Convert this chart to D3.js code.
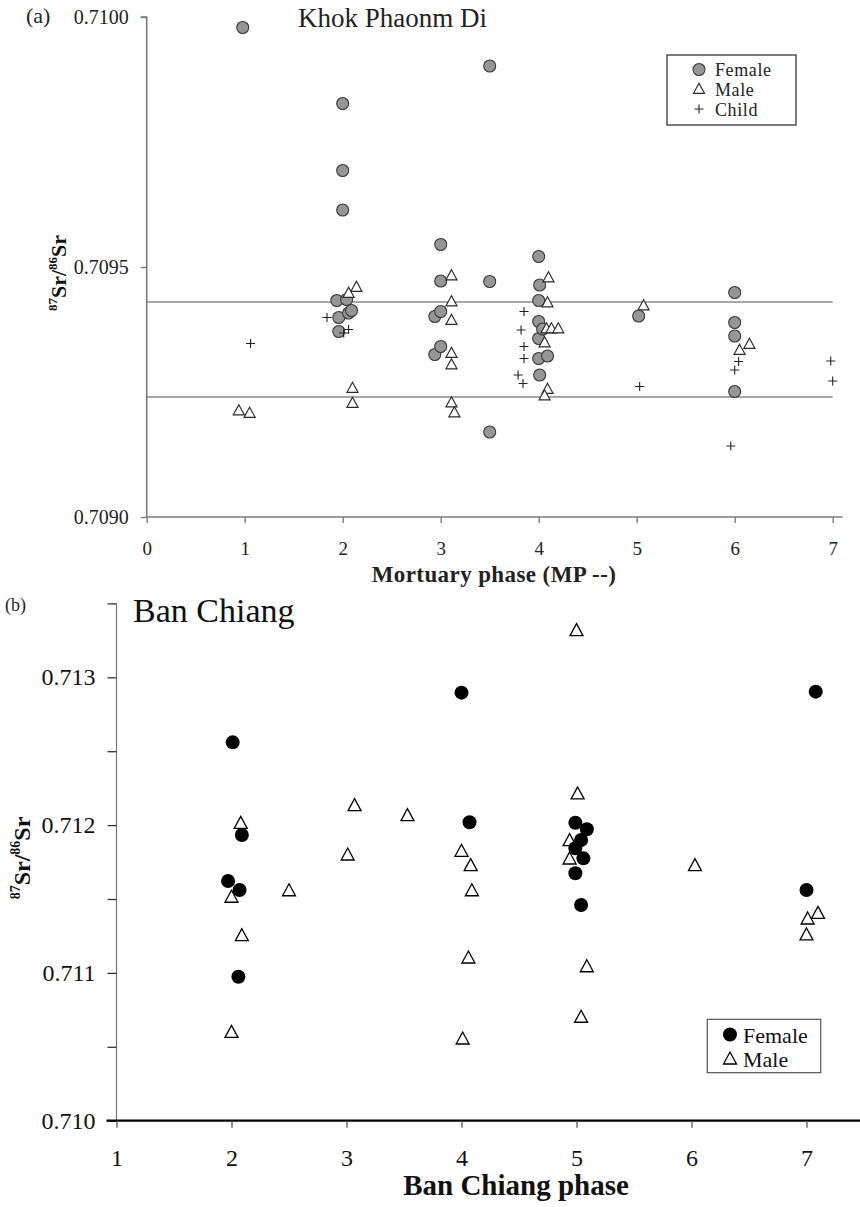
<!DOCTYPE html>
<html>
<head>
<meta charset="utf-8">
<script src="https://cdn.jsdelivr.net/npm/d3@7"></script>
<style>
  html, body { margin: 0; padding: 0; background: #fff; }
  svg { display: block; font-family: "Liberation Serif", "Times New Roman", serif; }
</style>
</head>
<body>
<svg id="chart" width="860" height="1207"></svg>
<script>
// ---------------- Panel (a) data: Khok Phanom Di ----------------
const kpdTitle = "Khok Phaonm Di";
const kpdXTicks = [0, 1, 2, 3, 4, 5, 6, 7];
const kpdYTicks = [0.7090, 0.7095, 0.7100];
const kpdRefLines = [0.70943, 0.70924];
const kpdLegend = ["Female", "Male", "Child"];
// [mortuary phase (jittered), 87Sr/86Sr]
const kpdFemale = [
  [0.98, 0.709979], [2.00, 0.709827], [2.00, 0.709693], [2.00, 0.709614],
  [1.94, 0.709433], [2.04, 0.709435], [1.96, 0.709399], [2.06, 0.709408],
  [2.09, 0.709413], [1.96, 0.709371],
  [3.50, 0.709902], [3.00, 0.709545], [3.00, 0.709472], [2.94, 0.709401],
  [3.00, 0.709411], [2.94, 0.709325], [3.00, 0.709341],
  [3.50, 0.709471], [3.50, 0.709170],
  [4.00, 0.709521], [4.01, 0.709464], [4.00, 0.709433], [4.00, 0.709391],
  [4.00, 0.709357], [4.00, 0.709317], [4.09, 0.709322], [4.01, 0.709284],
  [4.04, 0.709376],
  [5.02, 0.709402],
  [6.00, 0.709449], [6.00, 0.709389], [6.00, 0.709362], [6.00, 0.709251]
];
const kpdMale = [
  [0.94, 0.709211], [1.05, 0.709206],
  [2.14, 0.709458], [2.06, 0.709446], [2.10, 0.709256], [2.10, 0.709226],
  [3.11, 0.709481], [3.11, 0.709429], [3.11, 0.709392], [3.11, 0.709326],
  [3.11, 0.709303], [3.11, 0.709227], [3.14, 0.709207],
  [4.10, 0.709477], [4.09, 0.709427], [4.08, 0.709375], [4.13, 0.709375],
  [4.20, 0.709375], [4.06, 0.709347], [4.09, 0.709254], [4.06, 0.709241],
  [5.07, 0.709421],
  [6.15, 0.709344], [6.05, 0.709332]
];
const kpdChild = [
  [1.06, 0.709347],
  [1.84, 0.709399], [2.06, 0.709375], [2.01, 0.709368],
  [3.85, 0.709411], [3.82, 0.709374], [3.85, 0.709341], [3.85, 0.709317],
  [3.79, 0.709284], [3.84, 0.709267],
  [5.03, 0.709261],
  [6.04, 0.709311], [6.00, 0.709294], [5.96, 0.709142],
  [6.98, 0.709312], [7.00, 0.709272]
];

// ---------------- Panel (b) data: Ban Chiang ----------------
const bcTitle = "Ban Chiang";
const bcXTicks = [1, 2, 3, 4, 5, 6, 7];
const bcYTicks = [0.7100, 0.7105, 0.7110, 0.7115, 0.7120, 0.7125, 0.7130, 0.7135];
const bcYLabels = ["0.710", "", "0.711", "", "0.712", "", "0.713", ""];
const bcLegend = ["Female", "Male"];
const bcFemale = [
  [2.01, 0.712560], [2.09, 0.711933], [1.97, 0.711622], [2.07, 0.711561],
  [2.06, 0.710974],
  [4.00, 0.712896], [4.07, 0.712019],
  [4.99, 0.712016], [5.09, 0.711972], [5.04, 0.711899], [4.99, 0.711843],
  [5.06, 0.711775], [4.99, 0.711674], [5.04, 0.711459],
  [7.08, 0.712903], [7.00, 0.711561]
];
const bcMale = [
  [2.08, 0.712005], [2.00, 0.711505], [2.09, 0.711245], [2.00, 0.710591],
  [2.50, 0.711549],
  [3.01, 0.711791], [3.07, 0.712125], [3.53, 0.712057],
  [4.00, 0.711816], [4.08, 0.711719], [4.09, 0.711549], [4.06, 0.711094],
  [4.01, 0.710546],
  [5.01, 0.712204], [5.00, 0.713309], [4.94, 0.711888], [4.94, 0.711764],
  [5.09, 0.711035], [5.04, 0.710693],
  [6.03, 0.711719],
  [7.01, 0.711358], [7.10, 0.711396], [7.00, 0.711250]
];

// ---------------- drawing ----------------
const svg = d3.select("#chart");
const SERIF = "Liberation Serif, Times New Roman, serif";

function triPath(w, h) {
  return `M0,${-h * 2 / 3}L${w / 2},${h / 3}L${-w / 2},${h / 3}Z`;
}
function plusPath(s) {
  return `M${-s},0H${s}M0,${-s}V${s}`;
}

// ===== Panel (a) =====
const xA = d3.scaleLinear().domain([0, 7.1]).range([146.7, 842.5]);
const yA = d3.scaleLinear().domain([0.7090, 0.7100]).range([517, 17]);
const gA = svg.append("g");
const axisGrey = "#7a7a7a";

// reference lines
gA.selectAll("line.ref").data(kpdRefLines).join("line")
  .attr("x1", xA(0)).attr("x2", xA(7))
  .attr("y1", d => yA(d)).attr("y2", d => yA(d))
  .attr("stroke", "#8a8a8a").attr("stroke-width", 1.6);

// y axis
const yAxA = gA.append("g").attr("transform", `translate(${xA(0)},0)`)
  .call(d3.axisLeft(yA).tickValues(kpdYTicks).tickFormat(d3.format(".4f")).tickSize(6).tickPadding(12));
// x axis
const xAxA = gA.append("g").attr("transform", `translate(0,${yA(0.7090)})`)
  .call(d3.axisBottom(xA).tickValues(kpdXTicks).tickFormat(d3.format("d")).tickSize(6).tickPadding(19));
[yAxA, xAxA].forEach(ax => {
  ax.select(".domain").attr("stroke", axisGrey).attr("stroke-width", 1.6);
  ax.selectAll(".tick line").attr("stroke", axisGrey).attr("stroke-width", 1.4);
  ax.selectAll(".tick text").attr("fill", "#222").attr("font-family", SERIF).attr("font-size", 20);
});
xAxA.selectAll(".tick text").attr("font-size", 19);
yAxA.select(".domain").attr("d", `M-6,${yA(0.7100)}H0V${yA(0.7090)}`);
xAxA.select(".domain").attr("d", `M${xA(0)},0H${xA(7.1)}`);

// points (a)
gA.selectAll("circle.f").data(kpdFemale).join("circle")
  .attr("cx", d => xA(d[0])).attr("cy", d => yA(d[1])).attr("r", 6)
  .attr("fill", "#969696").attr("stroke", "#3a3a3a").attr("stroke-width", 1.1);
gA.selectAll("path.m").data(kpdMale).join("path")
  .attr("transform", d => `translate(${xA(d[0])},${yA(d[1])})`)
  .attr("d", triPath(11, 10)).attr("fill", "#fff").attr("stroke", "#2a2a2a").attr("stroke-width", 1.2);
gA.selectAll("path.c").data(kpdChild).join("path")
  .attr("transform", d => `translate(${xA(d[0])},${yA(d[1])})`)
  .attr("d", plusPath(4.5)).attr("fill", "none").attr("stroke", "#222").attr("stroke-width", 1.1);

// titles / labels (a)
svg.append("text").attr("x", 26).attr("y", 23).attr("font-size", 22).attr("fill", "#222").text("(a)");
svg.append("text").attr("x", 298).attr("y", 27).attr("font-size", 27).attr("fill", "#222").text(kpdTitle);
svg.append("text").attr("x", 494).attr("y", 582).attr("text-anchor", "middle")
  .attr("font-size", 23).attr("letter-spacing", 0.4).attr("font-weight", "bold").attr("fill", "#222")
  .text("Mortuary phase (MP --)");

function srLabel(sel, x, y, big, small) {
  const t = sel.append("text").attr("transform", `translate(${x},${y}) rotate(-90)`)
    .attr("text-anchor", "middle").attr("font-weight", "bold").attr("fill", "#111");
  const sup = Math.round(big * 0.4);
  t.append("tspan").attr("font-size", small).attr("dy", -sup).text("87");
  t.append("tspan").attr("font-size", big).attr("dy", sup).text("Sr/");
  t.append("tspan").attr("font-size", small).attr("dy", -sup).text("86");
  t.append("tspan").attr("font-size", big).attr("dy", sup).text("Sr");
}
srLabel(svg, 66, 273, 22, 13);

// legend (a)
const lgA = svg.append("g");
lgA.append("rect").attr("x", 667).attr("y", 55).attr("width", 129).attr("height", 70)
  .attr("fill", "#fff").attr("stroke", "#444").attr("stroke-width", 1.4);
lgA.append("circle").attr("cx", 699).attr("cy", 69.5).attr("r", 6)
  .attr("fill", "#969696").attr("stroke", "#3a3a3a").attr("stroke-width", 1.1);
lgA.append("path").attr("transform", "translate(699,90)").attr("d", triPath(11, 10))
  .attr("fill", "#fff").attr("stroke", "#2a2a2a").attr("stroke-width", 1.2);
lgA.append("path").attr("transform", "translate(699,109)").attr("d", plusPath(4.5))
  .attr("stroke", "#222").attr("stroke-width", 1.1);
kpdLegend.forEach((t, i) => {
  lgA.append("text").attr("x", 715).attr("y", 76 + i * 20)
    .attr("font-size", 18).attr("letter-spacing", 0.6).attr("fill", "#222").text(t);
});

// ===== Panel (b) =====
const xB = d3.scaleLinear().domain([1, 7.5]).range([116.5, 864]);
const yB = d3.scaleLinear().domain([0.7100, 0.7135]).range([1120.7, 603.4]);
const gB = svg.append("g");

const yAxB = gB.append("g").attr("transform", `translate(${xB(1)},0)`)
  .call(d3.axisLeft(yB).tickValues(bcYTicks).tickFormat((d, i) => bcYLabels[i]).tickSize(9).tickPadding(12));
yAxB.select(".domain").attr("d", `M0,${yB(0.7135)}V${yB(0.7100)}`).attr("stroke", "#777").attr("stroke-width", 1.2);
yAxB.selectAll(".tick line").attr("stroke", "#333").attr("stroke-width", 1.3);
yAxB.selectAll(".tick text").attr("fill", "#111").attr("font-family", SERIF).attr("font-size", 24);

const xAxB = gB.append("g").attr("transform", `translate(0,${yB(0.7100)})`)
  .call(d3.axisBottom(xB).tickValues(bcXTicks).tickFormat(d3.format("d")).tickSize(7).tickPadding(21));
xAxB.select(".domain").attr("d", `M${xB(1) - 10},0H860`).attr("stroke", "#000").attr("stroke-width", 2.2);
xAxB.selectAll(".tick line").attr("stroke", "#555").attr("stroke-width", 1.3);
xAxB.selectAll(".tick text").attr("fill", "#111").attr("font-family", SERIF).attr("font-size", 24);

gB.selectAll("path.m").data(bcMale).join("path")
  .attr("transform", d => `translate(${xB(d[0])},${yB(d[1])})`)
  .attr("d", triPath(13, 12)).attr("fill", "#fff").attr("stroke", "#000").attr("stroke-width", 1.3);
gB.selectAll("circle.f").data(bcFemale).join("circle")
  .attr("cx", d => xB(d[0])).attr("cy", d => yB(d[1])).attr("r", 7).attr("fill", "#000");

svg.append("text").attr("x", 5).attr("y", 611).attr("font-size", 18).attr("fill", "#222").text("(b)");
svg.append("text").attr("x", 133).attr("y", 622).attr("font-size", 34).attr("fill", "#111").text(bcTitle);
svg.append("text").attr("x", 516).attr("y", 1195).attr("text-anchor", "middle")
  .attr("font-size", 29).attr("font-weight", "bold").attr("fill", "#111").text("Ban Chiang phase");
srLabel(svg, 30, 858, 24, 14);

// legend (b)
const lgB = svg.append("g");
lgB.append("rect").attr("x", 707.3).attr("y", 1019.3).attr("width", 113.4).attr("height", 53.4)
  .attr("fill", "#fff").attr("stroke", "#555").attr("stroke-width", 1.2);
lgB.append("circle").attr("cx", 730).attr("cy", 1034.5).attr("r", 7).attr("fill", "#000");
lgB.append("path").attr("transform", "translate(730,1060)").attr("d", triPath(13, 12))
  .attr("fill", "#fff").attr("stroke", "#000").attr("stroke-width", 1.3);
bcLegend.forEach((t, i) => {
  lgB.append("text").attr("x", 743).attr("y", 1043 + i * 24)
    .attr("font-size", 22).attr("fill", "#111").text(t);
});
</script>
</body>
</html>
